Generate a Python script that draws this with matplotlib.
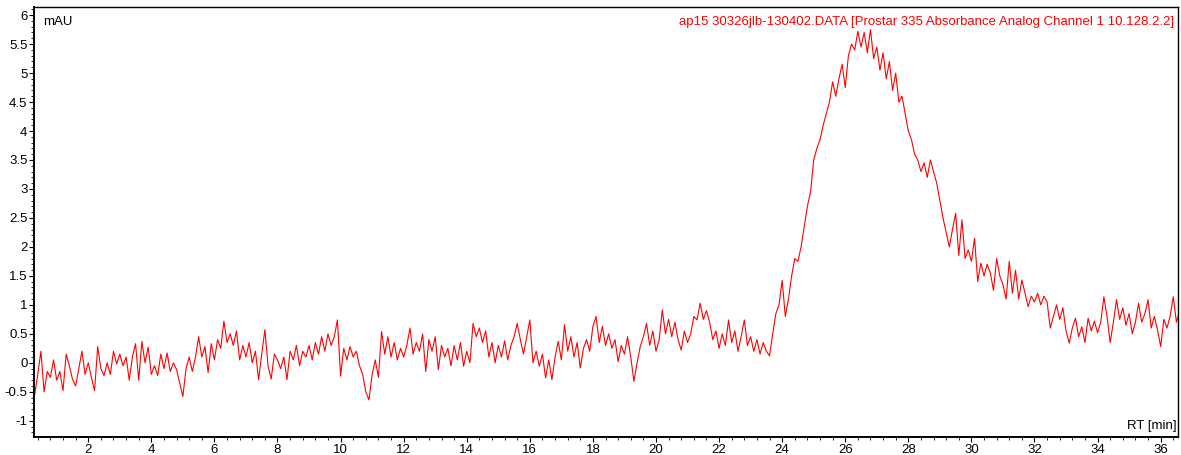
import matplotlib
import numpy as np

matplotlib.use("Agg")
import matplotlib.pyplot as plt
from matplotlib.ticker import MultipleLocator, FuncFormatter

plt.rcParams["font.family"] = ["Liberation Sans", "DejaVu Sans"]

# detector trace, sampled every 0.1 min starting at 0.3 min
rt_start = 0.3
rt_step = 0.1
signal = [
    -0.55, -0.2, 0.2, -0.5, -0.15, -0.25, 0.05,                       # 0.3-0.9
    -0.3, -0.15, -0.48, 0.15, -0.05, -0.28, -0.4, -0.1, 0.2, -0.2,    # 1
    0.0, -0.25, -0.48, 0.28, -0.1, -0.22, 0.0, -0.2, 0.2, -0.02,      # 2
    0.15, -0.05, 0.1, -0.3, 0.1, 0.33, -0.3, 0.37, 0.0, 0.27,         # 3
    -0.2, -0.05, -0.22, 0.15, -0.1, 0.17, -0.15, 0.0, -0.12, -0.35,   # 4
    -0.58, -0.1, 0.1, -0.15, 0.1, 0.45, 0.1, 0.28, -0.17, 0.33,       # 5
    0.05, 0.4, 0.25, 0.72, 0.35, 0.5, 0.3, 0.55, 0.05, 0.3,           # 6
    0.1, 0.35, 0.0, 0.2, -0.29, 0.15, 0.57, -0.05, -0.28, 0.15,       # 7
    0.05, -0.1, 0.1, -0.29, 0.2, 0.05, 0.3, -0.05, 0.2, 0.1,          # 8
    0.3, 0.05, 0.35, 0.15, 0.45, 0.2, 0.5, 0.3, 0.45, 0.74,           # 9
    -0.23, 0.25, 0.05, 0.28, 0.1, 0.2, -0.05, -0.2, -0.5, -0.64,      # 10
    -0.2, 0.05, -0.25, 0.54, 0.15, 0.45, 0.1, 0.35, 0.05, 0.25,       # 11
    0.1, 0.3, 0.6, 0.15, 0.35, 0.2, 0.5, -0.15, 0.4, 0.2,             # 12
    0.45, -0.12, 0.3, 0.1, 0.25, -0.05, 0.3, 0.05, 0.35, -0.06,       # 13
    0.2, 0.0, 0.68, 0.45, 0.6, 0.35, 0.55, 0.1, 0.35, 0.0,            # 14
    0.3, 0.1, 0.38, 0.05, 0.3, 0.45, 0.68, 0.4, 0.15, 0.45,           # 15
    0.74, 0.0, 0.2, -0.06, 0.15, -0.26, 0.05, -0.29, 0.1, 0.37,       # 16
    0.05, 0.66, 0.2, 0.45, 0.1, 0.35, -0.09, 0.25, 0.4, 0.2,          # 17
    0.63, 0.8, 0.35, 0.63, 0.3, 0.5, 0.25, 0.4, 0.02, 0.3,            # 18
    0.15, 0.45, 0.1, -0.32, 0.0, 0.28, 0.45, 0.68, 0.3, 0.55,         # 19
    0.2, 0.4, 0.91, 0.5, 0.75, 0.45, 0.7, 0.4, 0.22, 0.55,            # 20
    0.35, 0.5, 0.8, 0.74, 1.03, 0.75, 0.9, 0.7, 0.4, 0.55,            # 21
    0.25, 0.5, 0.3, 0.74, 0.35, 0.55, 0.2, 0.45, 0.74, 0.3,           # 22
    0.45, 0.2, 0.4, 0.15, 0.35, 0.2, 0.12, 0.5, 0.85, 1.0,            # 23
    1.42, 0.8, 1.1, 1.5, 1.8, 1.75, 2.0, 2.35, 2.7, 2.95,             # 24
    3.5, 3.7, 3.85, 4.1, 4.3, 4.5, 4.85, 4.6, 4.9, 5.15,              # 25
    4.75, 5.3, 5.5, 5.4, 5.72, 5.45, 5.7, 5.35, 5.75, 5.25,           # 26
    5.45, 5.05, 5.35, 4.9, 5.2, 4.7, 5.0, 4.5, 4.6, 4.3,              # 27
    4.0, 3.85, 3.6, 3.5, 3.3, 3.45, 3.2, 3.5, 3.3, 3.1,               # 28
    2.8, 2.5, 2.25, 2.0, 2.3, 2.58, 1.85, 2.47, 1.8, 1.95,            # 29
    1.75, 2.15, 1.4, 1.72, 1.5, 1.7, 1.55, 1.25, 1.8, 1.5,            # 30
    1.35, 1.1, 1.75, 1.2, 1.6, 1.1, 1.43, 1.2, 0.97, 1.15,            # 31
    1.05, 1.2, 1.0, 1.15, 1.05, 0.6, 0.8, 1.0, 0.75, 0.95,            # 32
    0.55, 0.34, 0.6, 0.77, 0.45, 0.62, 0.35, 0.77, 0.55, 0.72,        # 33
    0.52, 0.7, 1.14, 0.8, 0.35, 0.7, 1.09, 0.75, 0.95, 0.65,          # 34
    0.85, 0.5, 0.7, 1.03, 0.7, 0.85, 1.09, 0.6, 0.8, 0.57,            # 35
    0.28, 0.75, 0.6, 0.8, 1.14, 0.7, 0.9,                             # 36
]

rt = rt_start + rt_step * np.arange(len(signal))

fig = plt.figure(figsize=(11.81, 4.55), dpi=100)
ax = fig.add_axes([34 / 1181, 1 - 437 / 455, (1178 - 34) / 1181, (437 - 7) / 455])

ax.plot(rt, signal, color="#ff0000", linewidth=0.8)

ax.set_xlim(0.28, 36.55)
ax.set_ylim(-1.28, 6.14)

ax.xaxis.set_major_locator(MultipleLocator(2))
ax.xaxis.set_minor_locator(MultipleLocator(0.4))
ax.yaxis.set_major_locator(MultipleLocator(0.5))
ax.yaxis.set_minor_locator(MultipleLocator(0.1))
ax.yaxis.set_major_formatter(FuncFormatter(lambda v, p: f"{v:g}"))

ax.tick_params(axis="both", which="major", direction="out", length=3.5,
               width=0.8, labelsize=9.5, pad=1.2, color="black")
ax.tick_params(axis="both", which="minor", direction="out", length=2,
               width=0.6, color="black")

for side in ["left", "bottom"]:
    ax.spines[side].set_linewidth(1.4)
for side in ["top", "right"]:
    ax.spines[side].set_linewidth(1.0)

ax.text(0.008, 0.979, "mAU", transform=ax.transAxes, fontsize=9.5,
        ha="left", va="top")
ax.text(0.999, 0.012, "RT [min]", transform=ax.transAxes, fontsize=9.5,
        ha="right", va="bottom")
ax.text(0.997, 0.979,
        "ap15 30326jlb-130402.DATA [Prostar 335 Absorbance Analog Channel 1 10.128.2.2]",
        transform=ax.transAxes, fontsize=9.5, color="#ff0000", ha="right", va="top")

fig.savefig("out.png", dpi=100)
